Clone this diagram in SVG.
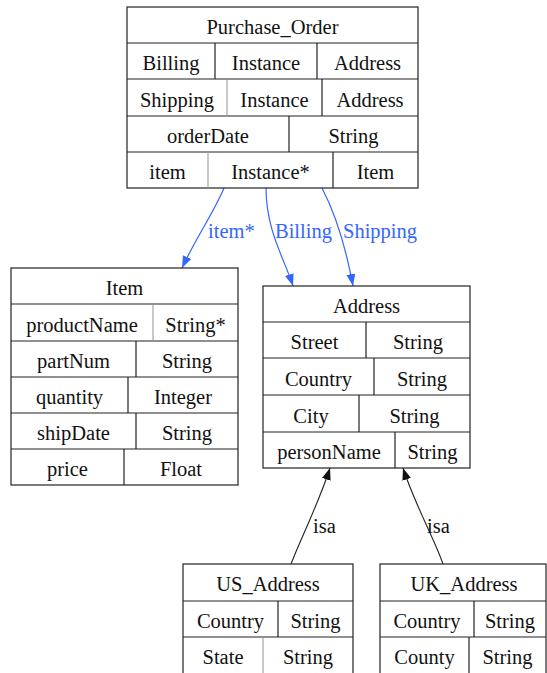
<svg xmlns="http://www.w3.org/2000/svg" width="547" height="673" viewBox="0 0 547 673">
<style>
  .box { fill: #ffffff; stroke: #222222; stroke-width: 1.2; }
  .ln { stroke: #222222; stroke-width: 1.2; }
  .lt { stroke: #8a9696; stroke-width: 1; }
  text { font-family: "Liberation Serif", "Times New Roman", serif; font-size: 20.5px; fill: #111111; }
  .c { text-anchor: middle; }
  .blue { fill: none; stroke: #3366ff; stroke-width: 1.2; }
  .blk { fill: none; stroke: #222222; stroke-width: 1.1; }
  .bl { fill: #3366ff; }
</style>
<defs>
  <marker id="ab" markerUnits="userSpaceOnUse" markerWidth="13" markerHeight="10" refX="12" refY="5" orient="auto">
    <path d="M0,0.5 L12,5 L0,9.5 z" fill="#3366ff"/>
  </marker>
  <marker id="ak" markerUnits="userSpaceOnUse" markerWidth="13" markerHeight="10" refX="12" refY="5" orient="auto">
    <path d="M0,0.5 L12,5 L0,9.5 z" fill="#111111"/>
  </marker>
</defs>
<rect width="547" height="673" fill="#ffffff"/>

<g id="connectors">
  <path class="blue" d="M224,188 C214,212 196,238 182,268" marker-end="url(#ab)"/>
  <path class="blue" d="M266,188 C266,230 284,258 293,286" marker-end="url(#ab)"/>
  <path class="blue" d="M322,188 C336,215 346,248 353,286" marker-end="url(#ab)"/>
  <text class="bl" x="208" y="238">item*</text>
  <text class="bl" x="275" y="238">Billing</text>
  <text class="bl" x="343" y="238">Shipping</text>
  <path class="blk" d="M291,564 C300,540 318,505 330,468" marker-end="url(#ak)"/>
  <path class="blk" d="M443,564 C435,540 415,505 403,468" marker-end="url(#ak)"/>
  <text x="313" y="533">isa</text>
  <text x="427" y="533">isa</text>
</g>

<g id="Purchase_Order">
  <rect class="box" x="127" y="7" width="291" height="181"/>
  <line class="ln" x1="127" y1="43" x2="418" y2="43"/>
  <line class="ln" x1="127" y1="79" x2="418" y2="79"/>
  <line class="ln" x1="127" y1="116" x2="418" y2="116"/>
  <line class="ln" x1="127" y1="152" x2="418" y2="152"/>
  <line class="ln" x1="215" y1="43" x2="215" y2="79"/>
  <line class="ln" x1="317" y1="43" x2="317" y2="79"/>
  <line class="lt" x1="227" y1="79" x2="227" y2="116"/>
  <line class="ln" x1="322" y1="79" x2="322" y2="116"/>
  <line class="ln" x1="289" y1="116" x2="289" y2="152"/>
  <line class="lt" x1="208" y1="152" x2="208" y2="188"/>
  <line class="ln" x1="333" y1="152" x2="333" y2="188"/>
  <text class="c" x="272.5" y="34">Purchase_Order</text>
  <text class="c" x="171" y="70">Billing</text>
  <text class="c" x="266" y="70">Instance</text>
  <text class="c" x="367.5" y="70">Address</text>
  <text class="c" x="177" y="106.5">Shipping</text>
  <text class="c" x="274.5" y="106.5">Instance</text>
  <text class="c" x="370" y="106.5">Address</text>
  <text class="c" x="208" y="143">orderDate</text>
  <text class="c" x="353.5" y="143">String</text>
  <text class="c" x="167.5" y="179">item</text>
  <text class="c" x="270.5" y="179">Instance*</text>
  <text class="c" x="375.5" y="179">Item</text>
</g>

<g id="Item">
  <rect class="box" x="11" y="268" width="227" height="217"/>
  <line class="ln" x1="11" y1="304" x2="238" y2="304"/>
  <line class="ln" x1="11" y1="341" x2="238" y2="341"/>
  <line class="ln" x1="11" y1="377" x2="238" y2="377"/>
  <line class="ln" x1="11" y1="413" x2="238" y2="413"/>
  <line class="ln" x1="11" y1="449" x2="238" y2="449"/>
  <line class="lt" x1="153" y1="304" x2="153" y2="341"/>
  <line class="ln" x1="136" y1="341" x2="136" y2="377"/>
  <line class="ln" x1="128" y1="377" x2="128" y2="413"/>
  <line class="ln" x1="136" y1="413" x2="136" y2="449"/>
  <line class="ln" x1="124" y1="449" x2="124" y2="485"/>
  <text class="c" x="124.5" y="295">Item</text>
  <text class="c" x="82" y="331.5">productName</text>
  <text class="c" x="195.5" y="331.5">String*</text>
  <text class="c" x="73.5" y="368">partNum</text>
  <text class="c" x="187" y="368">String</text>
  <text class="c" x="69.5" y="404">quantity</text>
  <text class="c" x="183" y="404">Integer</text>
  <text class="c" x="73.5" y="440">shipDate</text>
  <text class="c" x="187" y="440">String</text>
  <text class="c" x="67.5" y="476">price</text>
  <text class="c" x="181" y="476">Float</text>
</g>

<g id="Address">
  <rect class="box" x="263" y="286" width="207" height="182"/>
  <line class="ln" x1="263" y1="322" x2="470" y2="322"/>
  <line class="ln" x1="263" y1="358" x2="470" y2="358"/>
  <line class="ln" x1="263" y1="395" x2="470" y2="395"/>
  <line class="ln" x1="263" y1="432" x2="470" y2="432"/>
  <line class="ln" x1="366" y1="322" x2="366" y2="358"/>
  <line class="ln" x1="374" y1="358" x2="374" y2="395"/>
  <line class="ln" x1="359" y1="395" x2="359" y2="432"/>
  <line class="ln" x1="395" y1="432" x2="395" y2="468"/>
  <text class="c" x="366.5" y="313">Address</text>
  <text class="c" x="314.5" y="349">Street</text>
  <text class="c" x="418" y="349">String</text>
  <text class="c" x="318.5" y="385.5">Country</text>
  <text class="c" x="422" y="385.5">String</text>
  <text class="c" x="311" y="422.5">City</text>
  <text class="c" x="414.5" y="422.5">String</text>
  <text class="c" x="329" y="459">personName</text>
  <text class="c" x="432.5" y="459">String</text>
</g>

<g id="US_Address">
  <rect class="box" x="183" y="564" width="170" height="112"/>
  <line class="ln" x1="183" y1="601" x2="353" y2="601"/>
  <line class="ln" x1="183" y1="637" x2="353" y2="637"/>
  <line class="ln" x1="278" y1="601" x2="278" y2="637"/>
  <line class="lt" x1="263" y1="637" x2="263" y2="673"/>
  <text class="c" x="268" y="591">US_Address</text>
  <text class="c" x="230.5" y="628">Country</text>
  <text class="c" x="315.5" y="628">String</text>
  <text class="c" x="223" y="664">State</text>
  <text class="c" x="308" y="664">String</text>
</g>

<g id="UK_Address">
  <rect class="box" x="380" y="564" width="166" height="112"/>
  <line class="ln" x1="380" y1="601" x2="546" y2="601"/>
  <line class="ln" x1="380" y1="637" x2="546" y2="637"/>
  <line class="ln" x1="474" y1="601" x2="474" y2="637"/>
  <line class="ln" x1="469" y1="637" x2="469" y2="673"/>
  <text class="c" x="464" y="591">UK_Address</text>
  <text class="c" x="427" y="628">Country</text>
  <text class="c" x="510" y="628">String</text>
  <text class="c" x="424.5" y="664">County</text>
  <text class="c" x="507.5" y="664">String</text>
</g>
</svg>
